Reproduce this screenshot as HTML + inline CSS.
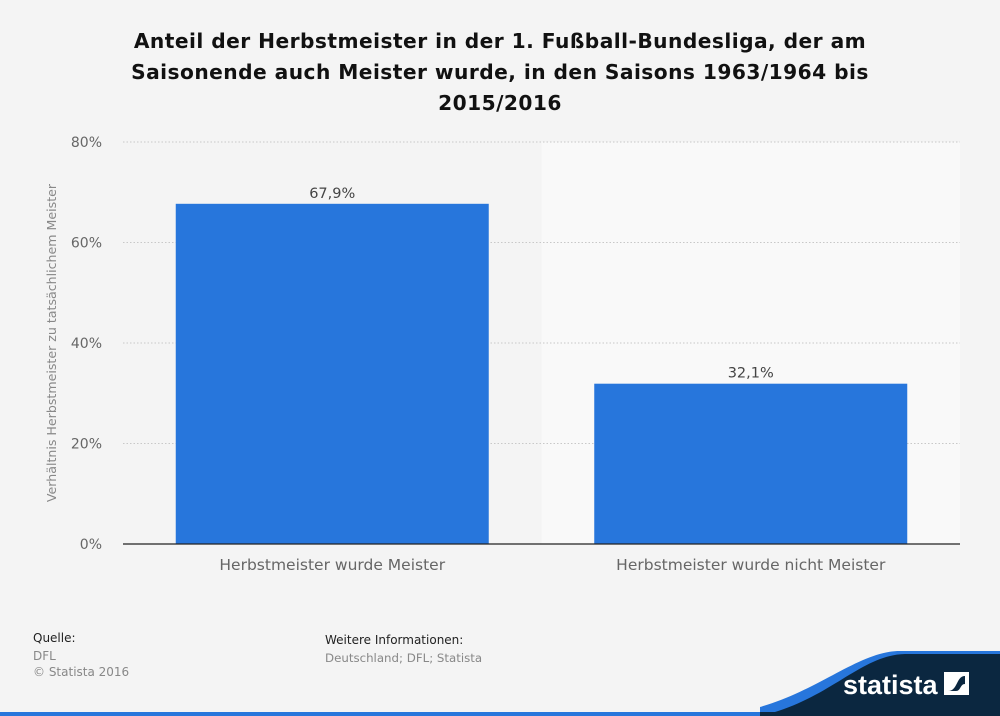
<!DOCTYPE html>
<html><head><meta charset="utf-8"><style>
body{margin:0;width:1000px;height:716px;background:#f4f4f4;font-family:"DejaVu Sans","Liberation Sans",sans-serif;overflow:hidden;position:relative}
.t{position:absolute;white-space:nowrap}
</style></head><body>
<div class="t" style="left:0;width:1000px;top:26px;text-align:center;font-weight:bold;font-size:20.2px;line-height:31px;color:#111;letter-spacing:0.45px">Anteil der Herbstmeister in der 1. Fußball-Bundesliga, der am<br>Saisonende auch Meister wurde, in den Saisons 1963/1964 bis<br>2015/2016</div>
<svg id="c" width="1000" height="716" style="position:absolute;left:0;top:0"></svg>
<div class="t" style="left:33px;top:631px;font-size:12px;color:#222">Quelle:</div>
<div class="t" style="left:33px;top:648px;font-size:12px;color:#888;line-height:16px">DFL<br>© Statista 2016</div>
<div class="t" style="left:325px;top:633px;font-size:12px;color:#222">Weitere Informationen:</div>
<div class="t" style="left:325px;top:651px;font-size:11.8px;color:#888">Deutschland; DFL; Statista</div>
<script>
const categories=["Herbstmeister wurde Meister","Herbstmeister wurde nicht Meister"];
const values=[67.9,32.1];
const labels=["67,9%","32,1%"];
const ticks=[0,20,40,60,80];
const svg=document.getElementById('c');const NS="http://www.w3.org/2000/svg";
function mk(t,a,txt){const e=document.createElementNS(NS,t);for(const k in a)e.setAttribute(k,a[k]);if(txt!==undefined)e.textContent=txt;svg.appendChild(e);return e;}
const x0=123,x1=960,y0=544,yTop=142;
const y=v=>y0-(v/80)*(y0-yTop);
const bw=(x1-x0)/categories.length;
let r=mk('rect',{x:x0+bw,y:yTop,width:bw,height:y0-yTop,fill:'#f9f9f9'});

ticks.forEach(t=>{
 if(t>0){const l=mk('line',{x1:x0,x2:x1,y1:y(t),y2:y(t),stroke:'#c8c8c8','stroke-dasharray':'1.5,2'});}
 const tx=mk('text',{x:102,y:y(t)+5,'text-anchor':'end','font-size':14,fill:'#666'},t+'%');
 
});
values.forEach((v,i)=>{
 const cx=x0+bw*(i+0.5);
 const b=mk('rect',{x:cx-156.5,y:y(v)+1,width:313,height:y0-y(v)-1,fill:'#2776dc'});
 
 const lb=mk('text',{x:cx,y:y(v)-5,'text-anchor':'middle','font-size':14.5,fill:'#444'},labels[i]);
 
 const c=mk('text',{x:cx,y:570,'text-anchor':'middle','font-size':15.5,fill:'#666'},categories[i]);
 
});
const ax=mk('line',{x1:x0,x2:x1,y1:y0,y2:y0,stroke:'#222','stroke-width':1.3});

const yt=mk('text',{x:0,y:0,transform:'translate(56,343) rotate(-90)','text-anchor':'middle','font-size':12.6,fill:'#888'},'Verhältnis Herbstmeister zu tatsächlichem Meister');

const w1=mk('path',{d:'M760,707 C820,690 860,651 900,651 L1000,651 L1000,716 L760,716 Z',fill:'#2776dc'});

const w2=mk('path',{d:'M760,716 C830,700 860,655 905,654 L1000,654 L1000,716 Z',fill:'#0b2740'});

const bl=mk('rect',{x:0,y:712,width:1000,height:4,fill:'#2776dc'});

const bd=mk('rect',{x:760,y:712,width:240,height:4,fill:'#0b2740'});

const lg=mk('text',{x:843,y:694,'font-size':27,'font-weight':'bold',fill:'#fff','font-family':'"Liberation Sans Narrow","Liberation Sans",sans-serif'},'statista');

const ic=mk('path',{d:'M944,672 H969 V695 H944 Z M948,691 C958,691 956,676 965,676 V684 C960,684 961,691 956,691 Z',fill:'#fff','fill-rule':'evenodd'});

</script>
</body></html>
